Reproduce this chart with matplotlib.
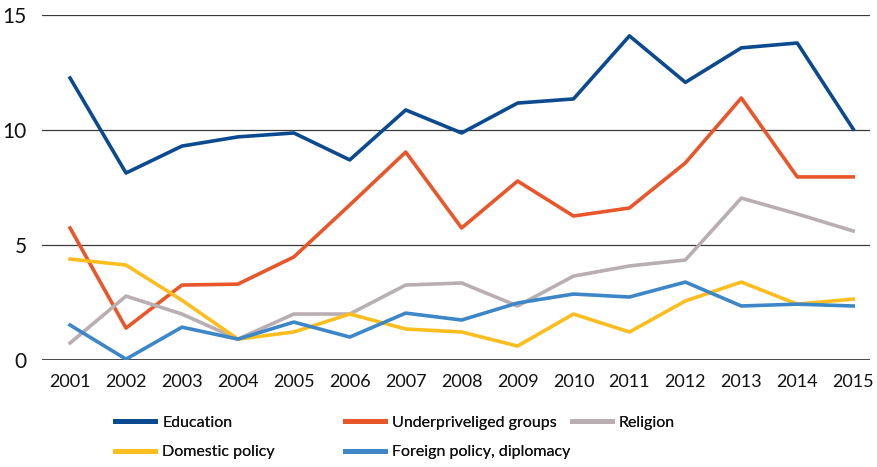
import matplotlib
matplotlib.use("Agg")
import matplotlib.pyplot as plt

plt.rcParams['font.family'] = ['Lato', 'DejaVu Sans']

years = list(range(2001, 2016))

education = [12.26, 8.13, 9.30, 9.70, 9.87, 8.70, 10.87, 9.87, 11.17, 11.35, 14.09, 12.07, 13.57, 13.78, 10.04]
underprivileged = [5.74, 1.39, 3.26, 3.30, 4.48, 6.74, 9.04, 5.74, 7.78, 6.26, 6.61, 8.57, 11.39, 7.96, 7.96]
religion = [0.74, 2.78, 2.00, 0.91, 2.00, 2.00, 3.26, 3.35, 2.35, 3.65, 4.09, 4.35, 7.04, 6.35, 5.61]
domestic = [4.39, 4.13, 2.60, 0.91, 1.22, 2.00, 1.35, 1.22, 0.61, 2.00, 1.22, 2.57, 3.39, 2.43, 2.65]
foreign = [1.52, 0.04, 1.43, 0.91, 1.65, 1.00, 2.04, 1.74, 2.48, 2.87, 2.74, 3.39, 2.35, 2.43, 2.35]

yticks = [0, 5, 10, 15]

fig = plt.figure(figsize=(8.77, 4.67), dpi=100)
ax = fig.add_axes([0.048, 0.229, 0.944, 0.739])

# grid lines drawn first
for v in yticks[1:]:
    ax.axhline(v, color='#3a3a3a', linewidth=0.9, zorder=1)
ax.axhline(0, color='#111111', linewidth=1.8, zorder=1)

lw = 2.6
l_edu, = ax.plot(years, education, color='#0b4a8f', linewidth=lw, zorder=3, label='Education')
l_und, = ax.plot(years, underprivileged, color='#e8562a', linewidth=lw, zorder=3, label='Underpriveliged groups')
l_rel, = ax.plot(years, religion, color='#b9aeb1', linewidth=lw, zorder=3, label='Religion')
l_dom, = ax.plot(years, domestic, color='#fbbe1e', linewidth=lw, zorder=3, label='Domestic policy')
l_for, = ax.plot(years, foreign, color='#3d87c8', linewidth=lw, zorder=3, label='Foreign policy, diplomacy')

ax.set_xlim(2000.5, 2015.3)
ax.set_ylim(0, 15)
ax.set_xticks(years)
ax.set_xticklabels([str(y) for y in years], fontsize=13)
ax.set_yticks(yticks)
ax.set_yticklabels([str(v) for v in yticks], fontsize=15)
ax.tick_params(axis='both', length=0, colors='#111111')
ax.tick_params(axis='x', pad=10)
ax.tick_params(axis='y', pad=11)
for s in ax.spines.values():
    s.set_visible(False)

leg_kw = dict(loc='upper left', frameon=False, fontsize=11.5, handlelength=2.5,
              handletextpad=0.45, labelspacing=0.95, borderaxespad=0, borderpad=0)
cols = [([l_edu, l_dom], 0.131), ([l_und, l_for], 0.393), ([l_rel], 0.652)]
for hs, x in cols:
    lg = fig.legend(handles=hs, bbox_to_anchor=(x, 0.11), **leg_kw)
    for h in lg.get_lines():
        h.set_linewidth(3.5)
    for t in lg.get_texts():
        t.set_color('#111111')
    fig.add_artist(lg)

fig.savefig('out.png', dpi=100)
